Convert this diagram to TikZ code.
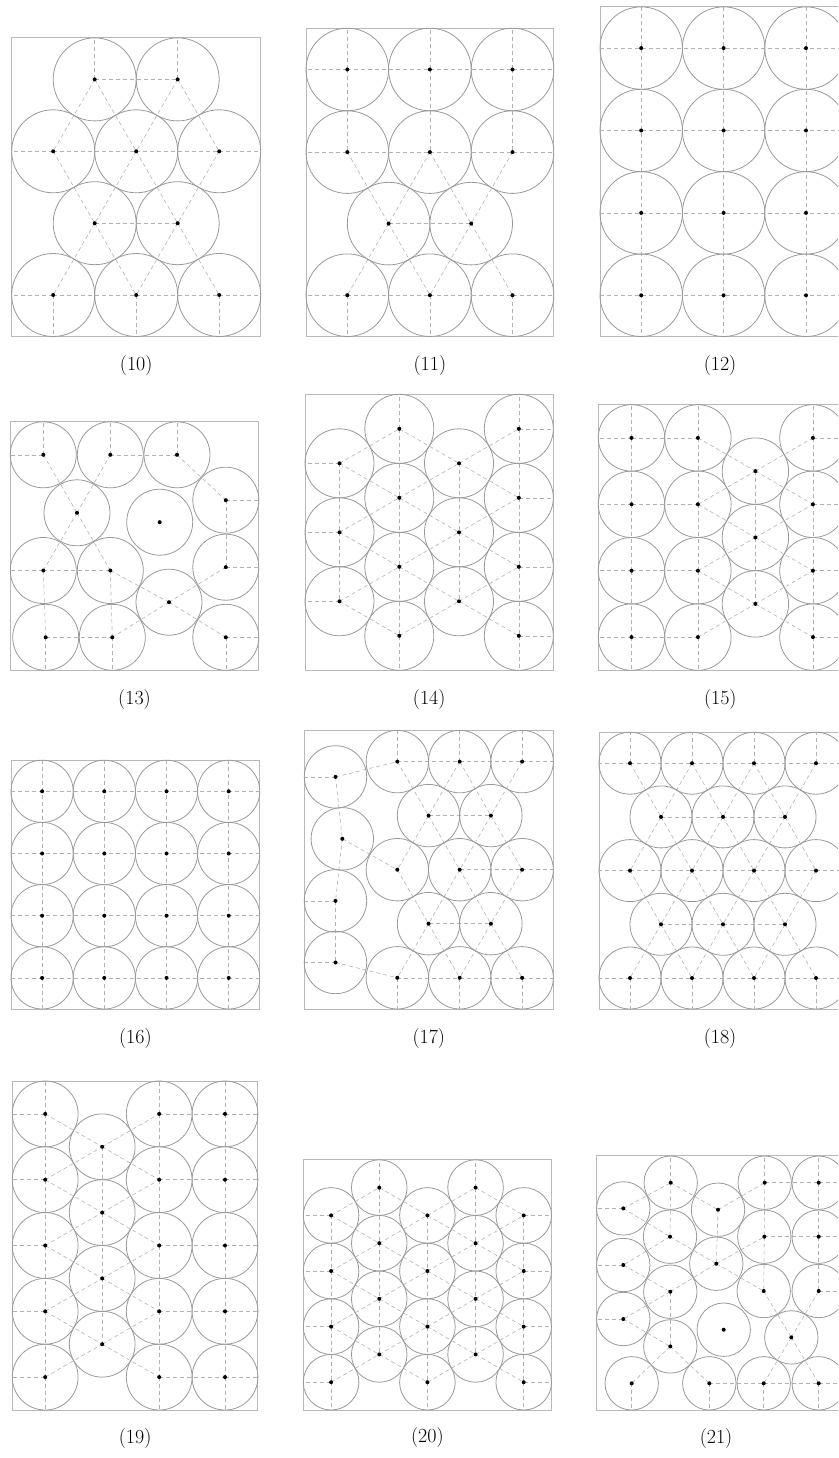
\documentclass[tikz,border=0pt]{standalone}
\pgfdeclarelayer{bg}
\pgfsetlayers{bg,main}
\tikzset{
  disk/.style={circle, draw=gray!80, line width=0.8pt, inner sep=0pt, minimum size=2*#1,
    path picture={\fill (path picture bounding box.center) circle (2pt);}},
  touch/.style={gray!60, line width=0.6pt, dash pattern=on 4pt off 3pt},
  frame/.style={draw=gray!55, line width=0.9pt},
  tag/.style={font=\fontsize{20}{24}\selectfont},
}
\begin{document}
\begin{tikzpicture}[x=1pt, y=-1pt]
  \useasboundingbox (0,0) rectangle (838,1458);
  \clip (0,0) rectangle (838,1458);

  % (10)
  \begin{scope}[shift={(11.7,37.9)}, name prefix=q10-]
    \coordinate (nw) at (0,0);
    \coordinate (se) at (249,298.6);
    \draw[frame] (nw) rectangle (se);
    \node[disk=41.5] (a) at (83,41.5) {};
    \node[disk=41.5] (b) at (166,41.5) {};
    \node[disk=41.5] (c) at (41.5,113.4) {};
    \node[disk=41.5] (d) at (124.5,113.4) {};
    \node[disk=41.5] (e) at (207.5,113.4) {};
    \node[disk=41.5] (f) at (83,185.3) {};
    \node[disk=41.5] (g) at (166,185.3) {};
    \node[disk=41.5] (h) at (41.5,257.1) {};
    \node[disk=41.5] (i) at (124.5,257.1) {};
    \node[disk=41.5] (j) at (207.5,257.1) {};
    \begin{pgfonlayer}{bg}
      \foreach \u/\v in {a/b,a/c,a/d,b/d,b/e,c/d,d/e,c/f,d/f,d/g,e/g,f/g,f/h,f/i,g/i,g/j,h/i,i/j}
        \draw[touch] (\u.center) -- (\v.center);
      \foreach \u in {a,b} \draw[touch] (\u.center) -- (\u.center |- nw);
      \foreach \u in {h,i,j} \draw[touch] (\u.center) -- (\u.center |- se);
      \foreach \u in {c,h} \draw[touch] (\u.center) -- (\u.center -| nw);
      \foreach \u in {e,j} \draw[touch] (\u.center) -- (\u.center -| se);
    \end{pgfonlayer}
    \node[tag] (cap) at (124.5,327.6) {(10)};
  \end{scope}

  % (11)
  \begin{scope}[shift={(306,28.2)}, name prefix=q11-]
    \coordinate (nw) at (0,0);
    \coordinate (se) at (247.8,308.3);
    \draw[frame] (nw) rectangle (se);
    \node[disk=41.3] (a) at (41.3,41.3) {};
    \node[disk=41.3] (b) at (123.9,41.3) {};
    \node[disk=41.3] (c) at (206.5,41.3) {};
    \node[disk=41.3] (d) at (41.3,123.9) {};
    \node[disk=41.3] (e) at (123.9,123.9) {};
    \node[disk=41.3] (f) at (206.5,123.9) {};
    \node[disk=41.3] (g) at (82.6,195.4) {};
    \node[disk=41.3] (h) at (165.2,195.4) {};
    \node[disk=41.3] (i) at (41.3,267) {};
    \node[disk=41.3] (j) at (123.9,267) {};
    \node[disk=41.3] (k) at (206.5,267) {};
    \begin{pgfonlayer}{bg}
      \foreach \u/\v in {a/b,b/c,a/d,b/e,c/f,d/e,e/f,d/g,e/g,e/h,f/h,g/h,g/i,g/j,h/j,h/k,i/j,j/k}
        \draw[touch] (\u.center) -- (\v.center);
      \foreach \u in {a,b,c} \draw[touch] (\u.center) -- (\u.center |- nw);
      \foreach \u in {i,j,k} \draw[touch] (\u.center) -- (\u.center |- se);
      \foreach \u in {a,d,i} \draw[touch] (\u.center) -- (\u.center -| nw);
      \foreach \u in {c,f,k} \draw[touch] (\u.center) -- (\u.center -| se);
    \end{pgfonlayer}
    \node[tag] (cap) at (123.9,337.3) {(11)};
  \end{scope}

  % (12)
  \begin{scope}[shift={(600,6.9)}, name prefix=q12-]
    \coordinate (nw) at (0,0);
    \coordinate (se) at (247.2,329.6);
    \draw[frame] (nw) rectangle (se);
    \foreach \i in {1,2,3}
      \foreach \j in {1,...,4}
        \node[disk=41.2] (d\i\j) at ({82.4*\i-41.2},{82.4*\j-41.2}) {};
    \begin{pgfonlayer}{bg}
      \foreach \j in {1,...,4}
        \draw[touch] (d1\j.center -| nw) -- (d1\j.center) -- (d2\j.center) -- (d3\j.center) -- (d3\j.center -| se);
      \foreach \i in {1,2,3}
        \draw[touch] (d\i1.center |- nw) -- (d\i1.center) -- (d\i2.center) -- (d\i3.center) -- (d\i4.center) -- (d\i4.center |- se);
    \end{pgfonlayer}
    \node[tag] (cap) at (120,358.6) {(12)};
  \end{scope}

  % (13)
  \begin{scope}[shift={(10.3,421.8)}, name prefix=q13-]
    \coordinate (nw) at (0,0);
    \coordinate (se) at (248.5,248.5);
    \draw[frame] (nw) rectangle (se);
    \node[disk=33] (a) at (33,33) {};
    \node[disk=33] (b) at (100,33) {};
    \node[disk=33] (c) at (166.7,33) {};
    \node[disk=33] (d) at (215.5,78.4) {};
    \node[disk=33] (e) at (66.7,91) {};
    \node[disk=33] (f) at (149.4,100.4) {};
    \node[disk=33] (g) at (33,148.7) {};
    \node[disk=33] (h) at (100,148.7) {};
    \node[disk=33] (i) at (215.5,145.4) {};
    \node[disk=33] (j) at (158.7,180.4) {};
    \node[disk=33] (k) at (35.4,215.5) {};
    \node[disk=33] (l) at (102,215.5) {};
    \node[disk=33] (m) at (215.5,215.5) {};
    \begin{pgfonlayer}{bg}
      \foreach \u/\v in {a/e,b/e,b/c,c/d,d/i,e/g,e/h,g/h,g/k,h/l,h/j,i/j,j/l,j/m,k/l}
        \draw[touch] (\u.center) -- (\v.center);
      \foreach \u in {a,b,c} \draw[touch] (\u.center) -- (\u.center |- nw);
      \foreach \u in {k,l,m} \draw[touch] (\u.center) -- (\u.center |- se);
      \foreach \u in {a,g} \draw[touch] (\u.center) -- (\u.center -| nw);
      \foreach \u in {d,i,m} \draw[touch] (\u.center) -- (\u.center -| se);
    \end{pgfonlayer}
    \node[tag] (cap) at (124.2,277.5) {(13)};
  \end{scope}

  % (14)
  \begin{scope}[shift={(305,394.3)}, name prefix=q14-]
    \coordinate (nw) at (0,0);
    \coordinate (se) at (248.3,276);
    \draw[frame] (nw) rectangle (se);
    \node[disk=34.5] (a) at (34.5,69) {};
    \node[disk=34.5] (b) at (34.5,138) {};
    \node[disk=34.5] (c) at (34.5,207) {};
    \node[disk=34.5] (d) at (94.3,34.5) {};
    \node[disk=34.5] (e) at (94.3,103.5) {};
    \node[disk=34.5] (f) at (94.3,172.5) {};
    \node[disk=34.5] (g) at (94.3,241.5) {};
    \node[disk=34.5] (h) at (154,69) {};
    \node[disk=34.5] (i) at (154,138) {};
    \node[disk=34.5] (j) at (154,207) {};
    \node[disk=34.5] (k) at (213.8,34.5) {};
    \node[disk=34.5] (l) at (213.8,103.5) {};
    \node[disk=34.5] (m) at (213.8,172.5) {};
    \node[disk=34.5] (n) at (213.8,241.5) {};
    \begin{pgfonlayer}{bg}
      \foreach \u/\v in {a/b,b/c,d/e,e/f,f/g,h/i,i/j,k/l,l/m,m/n,
                         a/d,a/e,b/e,b/f,c/f,c/g,d/h,e/h,e/i,f/i,f/j,g/j,
                         h/k,h/l,i/l,i/m,j/m,j/n}
        \draw[touch] (\u.center) -- (\v.center);
      \foreach \u in {d,k} \draw[touch] (\u.center) -- (\u.center |- nw);
      \foreach \u in {g,n} \draw[touch] (\u.center) -- (\u.center |- se);
      \foreach \u in {a,b,c} \draw[touch] (\u.center) -- (\u.center -| nw);
      \foreach \u in {k,l,m,n} \draw[touch] (\u.center) -- (\u.center -| se);
    \end{pgfonlayer}
    \node[tag] (cap) at (124.2,305) {(14)};
  \end{scope}

  % (15)
  \begin{scope}[shift={(598.3,404.7)}, name prefix=q15-]
    \coordinate (nw) at (0,0);
    \coordinate (se) at (247.8,265.6);
    \draw[frame] (nw) rectangle (se);
    \node[disk=33.2] (a) at (33.2,33.2) {};
    \node[disk=33.2] (b) at (33.2,99.6) {};
    \node[disk=33.2] (c) at (33.2,166) {};
    \node[disk=33.2] (d) at (33.2,232.4) {};
    \node[disk=33.2] (e) at (99.6,33.2) {};
    \node[disk=33.2] (f) at (99.6,99.6) {};
    \node[disk=33.2] (g) at (99.6,166) {};
    \node[disk=33.2] (h) at (99.6,232.4) {};
    \node[disk=33.2] (i) at (157.1,66.4) {};
    \node[disk=33.2] (j) at (157.1,132.8) {};
    \node[disk=33.2] (k) at (157.1,199.2) {};
    \node[disk=33.2] (l) at (214.6,33.2) {};
    \node[disk=33.2] (m) at (214.6,99.6) {};
    \node[disk=33.2] (n) at (214.6,166) {};
    \node[disk=33.2] (o) at (214.6,232.4) {};
    \begin{pgfonlayer}{bg}
      \foreach \u/\v in {a/b,b/c,c/d,e/f,f/g,g/h,i/j,j/k,l/m,m/n,n/o,a/e,b/f,c/g,d/h,
                         e/i,f/i,f/j,g/j,g/k,h/k,i/l,i/m,j/m,j/n,k/n,k/o}
        \draw[touch] (\u.center) -- (\v.center);
      \foreach \u in {a,e,l} \draw[touch] (\u.center) -- (\u.center |- nw);
      \foreach \u in {d,h,o} \draw[touch] (\u.center) -- (\u.center |- se);
      \foreach \u in {a,b,c,d} \draw[touch] (\u.center) -- (\u.center -| nw);
      \foreach \u in {l,m,n,o} \draw[touch] (\u.center) -- (\u.center -| se);
    \end{pgfonlayer}
    \node[tag] (cap) at (122,294.6) {(15)};
  \end{scope}

  % (16)
  \begin{scope}[shift={(11,760.2)}, name prefix=q16-]
    \coordinate (nw) at (0,0);
    \coordinate (se) at (248.8,248.8);
    \draw[frame] (nw) rectangle (se);
    \foreach \i in {1,...,4}
      \foreach \j in {1,...,4}
        \node[disk=31.1] (d\i\j) at ({62.2*\i-31.1},{62.2*\j-31.1}) {};
    \begin{pgfonlayer}{bg}
      \foreach \j in {1,...,4}
        \draw[touch] (d1\j.center -| nw) -- (d1\j.center) -- (d2\j.center) -- (d3\j.center) -- (d4\j.center) -- (d4\j.center -| se);
      \foreach \i in {1,...,4}
        \draw[touch] (d\i1.center |- nw) -- (d\i1.center) -- (d\i2.center) -- (d\i3.center) -- (d\i4.center) -- (d\i4.center |- se);
    \end{pgfonlayer}
    \node[tag] (cap) at (124.4,277.8) {(16)};
  \end{scope}

  % (17)
  \begin{scope}[shift={(304.3,730.4)}, name prefix=q17-]
    \coordinate (nw) at (0,0);
    \coordinate (se) at (249,278.6);
    \draw[frame] (nw) rectangle (se);
    \node[disk=31.2] (a) at (31.2,46.5) {};
    \node[disk=31.2] (b) at (38,108.4) {};
    \node[disk=31.2] (c) at (31.2,170.5) {};
    \node[disk=31.2] (d) at (31.2,232.1) {};
    \node[disk=31.2] (e) at (93,31.2) {};
    \node[disk=31.2] (f) at (155.4,31.2) {};
    \node[disk=31.2] (g) at (217.8,31.2) {};
    \node[disk=31.2] (h) at (124.2,85.2) {};
    \node[disk=31.2] (i) at (186.6,85.2) {};
    \node[disk=31.2] (j) at (93,139.3) {};
    \node[disk=31.2] (k) at (155.4,139.3) {};
    \node[disk=31.2] (l) at (217.8,139.3) {};
    \node[disk=31.2] (m) at (124.2,193.3) {};
    \node[disk=31.2] (n) at (186.6,193.3) {};
    \node[disk=31.2] (o) at (93,247.4) {};
    \node[disk=31.2] (p) at (155.4,247.4) {};
    \node[disk=31.2] (q) at (217.8,247.4) {};
    \begin{pgfonlayer}{bg}
      \foreach \u/\v in {a/b,b/c,c/d,a/e,b/j,d/o,e/f,f/g,e/h,f/h,f/i,g/i,h/i,h/j,h/k,i/k,i/l,
                         k/l,j/m,k/m,k/n,l/n,m/n,m/o,m/p,n/p,n/q,o/p,p/q}
        \draw[touch] (\u.center) -- (\v.center);
      \foreach \u in {e,f,g} \draw[touch] (\u.center) -- (\u.center |- nw);
      \foreach \u in {o,p,q} \draw[touch] (\u.center) -- (\u.center |- se);
      \foreach \u in {a,c,d} \draw[touch] (\u.center) -- (\u.center -| nw);
      \foreach \u in {g,l,q} \draw[touch] (\u.center) -- (\u.center -| se);
    \end{pgfonlayer}
    \node[tag] (cap) at (124.5,307.6) {(17)};
  \end{scope}

  % (18)
  \begin{scope}[shift={(599,732.2)}, name prefix=q18-]
    \coordinate (nw) at (0,0);
    \coordinate (se) at (248,276.8);
    \draw[frame] (nw) rectangle (se);
    \node[disk=31] (a) at (31,31) {};
    \node[disk=31] (b) at (93,31) {};
    \node[disk=31] (c) at (155,31) {};
    \node[disk=31] (d) at (217,31) {};
    \node[disk=31] (e) at (62,84.7) {};
    \node[disk=31] (f) at (124,84.7) {};
    \node[disk=31] (g) at (186,84.7) {};
    \node[disk=31] (h) at (31,138.4) {};
    \node[disk=31] (i) at (93,138.4) {};
    \node[disk=31] (j) at (155,138.4) {};
    \node[disk=31] (k) at (217,138.4) {};
    \node[disk=31] (l) at (62,192.1) {};
    \node[disk=31] (m) at (124,192.1) {};
    \node[disk=31] (n) at (186,192.1) {};
    \node[disk=31] (o) at (31,245.8) {};
    \node[disk=31] (p) at (93,245.8) {};
    \node[disk=31] (q) at (155,245.8) {};
    \node[disk=31] (r) at (217,245.8) {};
    \begin{pgfonlayer}{bg}
      \foreach \u/\v in {a/b,b/c,c/d,e/f,f/g,h/i,i/j,j/k,l/m,m/n,o/p,p/q,q/r,
                         a/e,b/e,b/f,c/f,c/g,d/g,e/h,e/i,f/i,f/j,g/j,g/k,
                         h/l,i/l,i/m,j/m,j/n,k/n,l/o,l/p,m/p,m/q,n/q,n/r}
        \draw[touch] (\u.center) -- (\v.center);
      \foreach \u in {a,b,c,d} \draw[touch] (\u.center) -- (\u.center |- nw);
      \foreach \u in {o,p,q,r} \draw[touch] (\u.center) -- (\u.center |- se);
      \foreach \u in {a,h,o} \draw[touch] (\u.center) -- (\u.center -| nw);
      \foreach \u in {d,k,r} \draw[touch] (\u.center) -- (\u.center -| se);
    \end{pgfonlayer}
    \node[tag] (cap) at (121,305.8) {(18)};
  \end{scope}

  % (19)
  \begin{scope}[shift={(12.3,1081)}, name prefix=q19-]
    \coordinate (nw) at (0,0);
    \coordinate (se) at (245.6,329);
    \draw[frame] (nw) rectangle (se);
    \node[disk=32.9] (a) at (32.9,32.9) {};
    \node[disk=32.9] (b) at (32.9,98.7) {};
    \node[disk=32.9] (c) at (32.9,164.5) {};
    \node[disk=32.9] (d) at (32.9,230.3) {};
    \node[disk=32.9] (e) at (32.9,296.1) {};
    \node[disk=32.9] (f) at (89.9,65.8) {};
    \node[disk=32.9] (g) at (89.9,131.6) {};
    \node[disk=32.9] (h) at (89.9,197.4) {};
    \node[disk=32.9] (i) at (89.9,263.2) {};
    \node[disk=32.9] (j) at (146.9,32.9) {};
    \node[disk=32.9] (k) at (146.9,98.7) {};
    \node[disk=32.9] (l) at (146.9,164.5) {};
    \node[disk=32.9] (m) at (146.9,230.3) {};
    \node[disk=32.9] (n) at (146.9,296.1) {};
    \node[disk=32.9] (o) at (212.7,32.9) {};
    \node[disk=32.9] (p) at (212.7,98.7) {};
    \node[disk=32.9] (q) at (212.7,164.5) {};
    \node[disk=32.9] (r) at (212.7,230.3) {};
    \node[disk=32.9] (s) at (212.7,296.1) {};
    \begin{pgfonlayer}{bg}
      \foreach \u/\v in {a/b,b/c,c/d,d/e,f/g,g/h,h/i,j/k,k/l,l/m,m/n,o/p,p/q,q/r,r/s,
                         a/f,b/f,b/g,c/g,c/h,d/h,d/i,e/i,f/j,f/k,g/k,g/l,h/l,h/m,i/m,i/n,
                         j/o,k/p,l/q,m/r,n/s}
        \draw[touch] (\u.center) -- (\v.center);
      \foreach \u in {a,j,o} \draw[touch] (\u.center) -- (\u.center |- nw);
      \foreach \u in {e,n,s} \draw[touch] (\u.center) -- (\u.center |- se);
      \foreach \u in {a,b,c,d,e} \draw[touch] (\u.center) -- (\u.center -| nw);
      \foreach \u in {o,p,q,r,s} \draw[touch] (\u.center) -- (\u.center -| se);
    \end{pgfonlayer}
    \node[tag] (cap) at (122.8,357) {(19)};
  \end{scope}

  % (20)
  \begin{scope}[shift={(303.3,1159.8)}, name prefix=q20-]
    \coordinate (nw) at (0,0);
    \coordinate (se) at (248.2,250.2);
    \draw[frame] (nw) rectangle (se);
    \node[disk=27.8] (a) at (27.8,55.6) {};
    \node[disk=27.8] (b) at (27.8,111.2) {};
    \node[disk=27.8] (c) at (27.8,166.8) {};
    \node[disk=27.8] (d) at (27.8,222.4) {};
    \node[disk=27.8] (e) at (75.95,27.8) {};
    \node[disk=27.8] (f) at (75.95,83.4) {};
    \node[disk=27.8] (g) at (75.95,139) {};
    \node[disk=27.8] (h) at (75.95,194.6) {};
    \node[disk=27.8] (i) at (124.1,55.6) {};
    \node[disk=27.8] (j) at (124.1,111.2) {};
    \node[disk=27.8] (k) at (124.1,166.8) {};
    \node[disk=27.8] (l) at (124.1,222.4) {};
    \node[disk=27.8] (m) at (172.25,27.8) {};
    \node[disk=27.8] (n) at (172.25,83.4) {};
    \node[disk=27.8] (o) at (172.25,139) {};
    \node[disk=27.8] (p) at (172.25,194.6) {};
    \node[disk=27.8] (q) at (220.4,55.6) {};
    \node[disk=27.8] (r) at (220.4,111.2) {};
    \node[disk=27.8] (s) at (220.4,166.8) {};
    \node[disk=27.8] (t) at (220.4,222.4) {};
    \begin{pgfonlayer}{bg}
      \foreach \u/\v in {a/b,b/c,c/d,e/f,f/g,g/h,i/j,j/k,k/l,m/n,n/o,o/p,q/r,r/s,s/t,
                         a/e,a/f,b/f,b/g,c/g,c/h,d/h,e/i,f/i,f/j,g/j,g/k,h/k,h/l,
                         i/m,i/n,j/n,j/o,k/o,k/p,l/p,m/q,n/q,n/r,o/r,o/s,p/s,p/t}
        \draw[touch] (\u.center) -- (\v.center);
      \foreach \u in {e,m} \draw[touch] (\u.center) -- (\u.center |- nw);
      \foreach \u in {d,l,t} \draw[touch] (\u.center) -- (\u.center |- se);
      \foreach \u in {a,b,c,d} \draw[touch] (\u.center) -- (\u.center -| nw);
      \foreach \u in {q,r,s,t} \draw[touch] (\u.center) -- (\u.center -| se);
    \end{pgfonlayer}
    \node[tag] (cap) at (124.1,277.2) {(20)};
  \end{scope}

  % (21)
  \begin{scope}[shift={(596,1155.7)}, name prefix=q21-]
    \coordinate (nw) at (0,0);
    \coordinate (se) at (249.4,254.3);
    \draw[frame] (nw) rectangle (se);
    \node[disk=26.7] (a) at (27.3,52.7) {};
    \node[disk=26.7] (b) at (74.7,27) {};
    \node[disk=26.7] (c) at (74,81) {};
    \node[disk=26.7] (d) at (27.3,109.3) {};
    \node[disk=26.7] (e) at (74.3,136) {};
    \node[disk=26.7] (f) at (27.3,163.3) {};
    \node[disk=26.7] (g) at (74.3,190.7) {};
    \node[disk=26.7] (h) at (35.7,227.6) {};
    \node[disk=26.7] (i) at (122,54) {};
    \node[disk=26.7] (j) at (120.3,108) {};
    \node[disk=26.7] (k) at (127.7,174) {};
    \node[disk=26.7] (l) at (113.3,227.6) {};
    \node[disk=26.7] (m) at (168.7,27) {};
    \node[disk=26.7] (n) at (168.3,81) {};
    \node[disk=26.7] (o) at (167.7,135.3) {};
    \node[disk=26.7] (p) at (195.3,181.7) {};
    \node[disk=26.7] (q) at (167.7,227.6) {};
    \node[disk=26.7] (r) at (222.7,27) {};
    \node[disk=26.7] (s) at (222.7,81) {};
    \node[disk=26.7] (t) at (222.7,135.3) {};
    \node[disk=26.7] (u) at (222.7,227.6) {};
    \begin{pgfonlayer}{bg}
      \foreach \u/\v in {a/b,a/c,b/c,b/i,c/d,c/j,d/e,e/f,e/j,e/g,f/g,g/h,g/l,i/j,i/m,j/n,j/o,
                         l/q,m/r,m/n,n/s,n/o,o/p,p/t,p/q,p/u,q/u,r/s,s/t}
        \draw[touch] (\u.center) -- (\v.center);
      \foreach \u in {b,m,r} \draw[touch] (\u.center) -- (\u.center |- nw);
      \foreach \u in {h,l,q,u} \draw[touch] (\u.center) -- (\u.center |- se);
      \foreach \u in {a,d,f} \draw[touch] (\u.center) -- (\u.center -| nw);
      \foreach \u in {r,s,t,u} \draw[touch] (\u.center) -- (\u.center -| se);
    \end{pgfonlayer}
    \node[tag] (cap) at (120,282.3) {(21)};
  \end{scope}
\end{tikzpicture}
\end{document}
